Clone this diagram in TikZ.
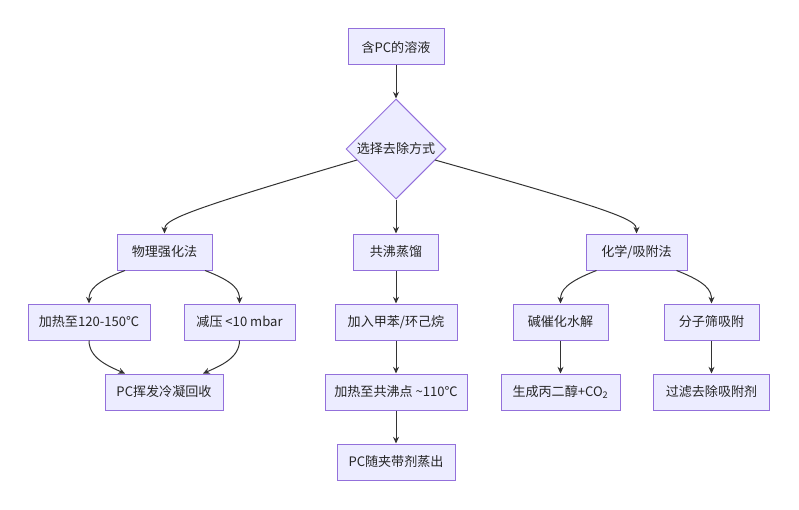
\documentclass[tikz,border=0pt]{standalone}
\usepackage{fontspec}
\setmainfont{Noto Sans CJK SC}
\usetikzlibrary{shapes.geometric,arrows.meta,calc}
\definecolor{nodefill}{HTML}{ECECFF}
\definecolor{nodeline}{HTML}{9370DB}
\definecolor{edgecol}{HTML}{333333}
\begin{document}
\begin{tikzpicture}[x=0.75pt,y=-0.75pt,
  box/.style={draw=nodeline,fill=nodefill,line width=0.75pt,inner sep=0pt,
    minimum width=#1*0.75pt,minimum height=27pt,font=\fontsize{9.8}{11}\selectfont,text=black!85},
  dia/.style={draw=nodeline,fill=nodefill,line width=0.75pt,diamond,aspect=1,inner sep=0pt,
    minimum width=75pt,minimum height=75pt,font=\fontsize{9.8}{11}\selectfont,text=black!85},
  conn/.style={draw=edgecol,line width=0.75pt,-{Stealth[length=5pt,width=4.5pt]}}]
\useasboundingbox (0,0) rectangle (799,510);
\node[box=96] (a) at (396,47) {含PC的溶液};
\node[dia] (d) at (396,149) {选择去除方式};
\node[box=95] (phys) at (164.5,252) {物理强化法};
\node[box=85] (azeo) at (396,252) {共沸蒸馏};
\node[box=101] (chem) at (636.5,252) {化学/吸附法};
\node[box=122] (heat) at (89,322) {加热至120-150℃};
\node[box=111] (vac) at (239.5,322) {减压 <10 mbar};
\node[box=118] (rec) at (164,392) {PC挥发冷凝回收};
\node[box=122] (add) at (396,322) {加入甲苯/环己烷};
\node[box=142] (boil) at (396,392) {加热至共沸点 \textasciitilde110℃};
\node[box=118] (out) at (396,462) {PC随夹带剂蒸出};
\node[box=95] (hyd) at (560.5,322) {碱催化水解};
\node[box=95] (sieve) at (711.5,322) {分子筛吸附};
\node[box=119] (prod) at (560.5,392) {生成丙二醇+CO\textsubscript{2}};
\node[box=116] (filt) at (711.5,392) {过滤去除吸附剂};

\draw[conn] (a) -- (d);
\draw[conn] ($(d.center)+(-39,11)$) .. controls (180,212) and (164.5,220) .. (phys.north);
\draw[conn] (d) -- (azeo);
\draw[conn] ($(d.center)+(39,11)$) .. controls (620,212) and (636.5,220) .. (chem.north);

\draw[conn] ($(phys.south)+(-39.5,0)$) .. controls (95,282) and (89,290) .. (heat.north);
\draw[conn] ($(phys.south)+(40.5,0)$) .. controls (235,282) and (239.5,290) .. (vac.north);
\draw[conn] (heat.south) .. controls (89,358) and (108,366) .. ($(rec.north)+(-39,0)$);
\draw[conn] (vac.south) .. controls (239.5,358) and (220,366) .. ($(rec.north)+(39,0)$);

\draw[conn] (azeo) -- (add);
\draw[conn] (add) -- (boil);
\draw[conn] (boil) -- (out);

\draw[conn] ($(chem.south)+(-40,0)$) .. controls (567,282) and (560.5,290) .. (hyd.north);
\draw[conn] ($(chem.south)+(40,0)$) .. controls (706,282) and (711.5,290) .. (sieve.north);
\draw[conn] (hyd) -- (prod);
\draw[conn] (sieve) -- (filt);
\end{tikzpicture}
\end{document}
